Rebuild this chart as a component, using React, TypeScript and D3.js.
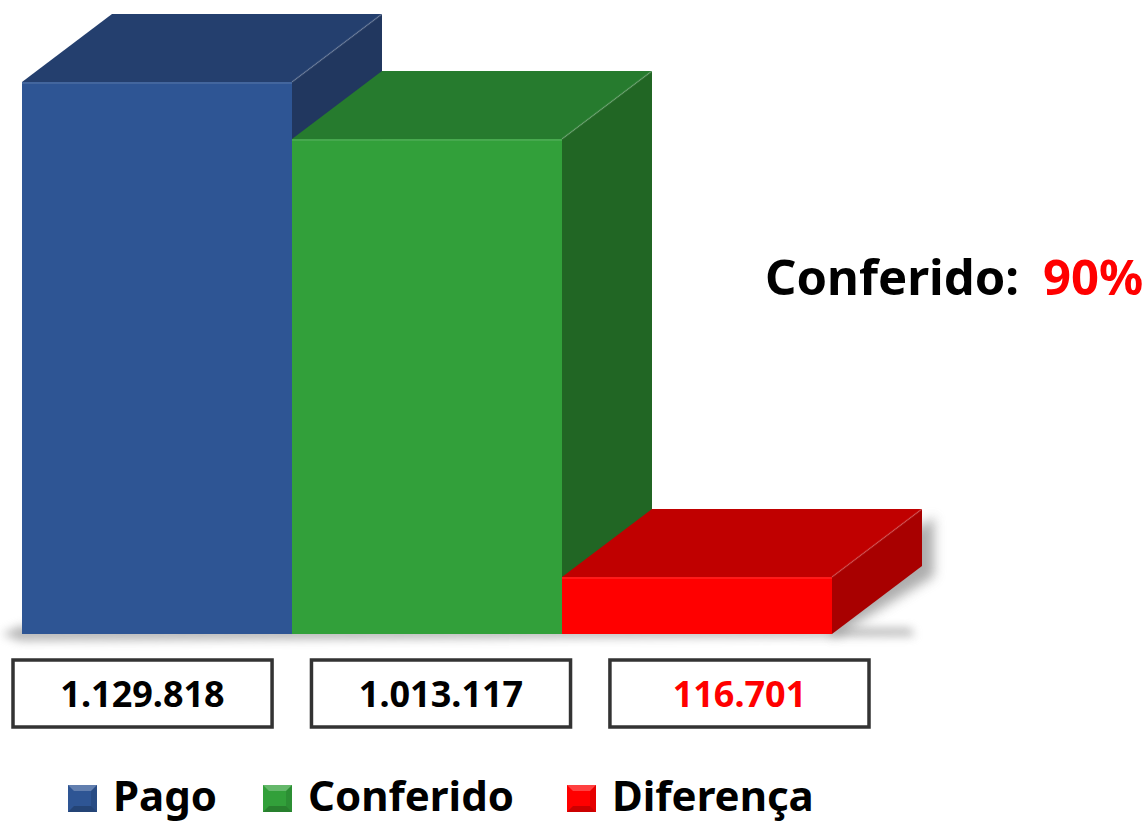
import React from 'react';
import * as d3 from 'd3';

const categories = ['Pago', 'Conferido', 'Diferença'];
const values = [1129818, 1013117, 116701];
const valueLabels = ['1.129.818', '1.013.117', '116.701'];
const percentLabel = '90%';

const frontColors = ['#2E5594', '#32A03A', '#FF0000'];
const topColors = ['#243F6E', '#267B2E', '#C00000'];
const sideColors = ['#21375F', '#216624', '#A80000'];
const labelColors = ['#000000', '#000000', '#FF0000'];

const width = 1148;
const height = 825;
const baseY = 634;
const depthX = 90;
const depthY = -68;
const font = "'Noto Sans', 'Open Sans', sans-serif";

const App = () => {
  const x = d3.scaleBand<string>().domain(categories).range([22, 832]).padding(0);
  const y = d3.scaleLinear().domain([0, d3.max(values) as number]).range([baseY, 82]);
  const boxX = d3.scaleBand<string>().domain(categories).range([13, 869]).paddingInner(0.132);

  const bw = x.bandwidth();
  const poly = (pts: [number, number][]) => 'M' + pts.map(p => p.join(',')).join('L') + 'Z';

  const legendX = [68, 263, 567];

  return (
    <svg width={width} height={height} style={{ position: 'absolute', left: 0, top: 0, background: '#fff' }}>
      <defs>
        <filter id="blur" x="-20%" y="-200%" width="140%" height="500%">
          <feGaussianBlur stdDeviation="5" />
        </filter>
        <filter id="blur2" x="-50%" y="-50%" width="200%" height="200%">
          <feGaussianBlur stdDeviation="6" />
        </filter>
      </defs>

      {/* floor shadow */}
      <path d={poly([[2, 634], [20, 626], [910, 628], [915, 636], [20, 641]])} fill="#8a8a8a" opacity={0.6} filter="url(#blur)" />
      <path
        d={poly([
          [x('Diferença')! + bw, y(values[2]) + 6],
          [x('Diferença')! + bw + depthX + 12, y(values[2]) + depthY + 8],
          [x('Diferença')! + bw + depthX + 12, baseY + depthY + 10],
          [x('Diferença')! + bw, baseY + 4],
        ])}
        fill="#777"
        opacity={0.6}
        filter="url(#blur2)"
      />

      {categories.map((c, i) => {
        const x0 = x(c)!;
        const x1 = x0 + bw;
        const yt = y(values[i]);
        return (
          <g key={c}>
            <path
              d={poly([[x1, yt], [x1 + depthX, yt + depthY], [x1 + depthX, baseY + depthY], [x1, baseY]])}
              fill={sideColors[i]}
            />
            <path
              d={poly([[x0, yt], [x0 + depthX, yt + depthY], [x1 + depthX, yt + depthY], [x1, yt]])}
              fill={topColors[i]}
            />
            <line x1={x1} y1={yt} x2={x1 + depthX} y2={yt + depthY} stroke="#fff" strokeOpacity={0.12} strokeWidth={2} />
            <rect x={x0} y={yt} width={bw} height={baseY - yt} fill={frontColors[i]} />
            <line x1={x0} y1={yt + 1} x2={x1} y2={yt + 1} stroke="#fff" strokeOpacity={0.1} strokeWidth={2} />
          </g>
        );
      })}

      {categories.map((c, i) => (
        <g key={'box' + c}>
          <rect x={boxX(c)!} y={660} width={boxX.bandwidth()} height={67} fill="#fff" stroke="#333" strokeWidth={3.5} />
          <text
            x={boxX(c)! + boxX.bandwidth() / 2}
            y={707}
            textAnchor="middle"
            fontFamily={font}
            fontWeight="bold"
            fontSize={36}
            fill={labelColors[i]}
          >
            {valueLabels[i]}
          </text>
        </g>
      ))}

      <text x={765} y={295} fontFamily={font} fontWeight="bold" fontSize={49} fill="#000">
        Conferido:
        <tspan x={1043} fill="#FF0000">{percentLabel}</tspan>
      </text>

      {categories.map((c, i) => {
        const lx = legendX[i];
        const ly = 785;
        const s = 29;
        const h = 27;
        const m = 6;
        return (
          <g key={'leg' + c}>
            <rect x={lx} y={ly} width={s} height={h} fill={frontColors[i]} />
            <path d={poly([[lx, ly], [lx + s, ly], [lx + s - m, ly + m], [lx + m, ly + m]])} fill="#fff" opacity={0.25} />
            <path d={poly([[lx, ly + h], [lx + s, ly + h], [lx + s - m, ly + h - m], [lx + m, ly + h - m]])} fill="#000" opacity={0.2} />
            <path d={poly([[lx + s, ly], [lx + s, ly + h], [lx + s - m, ly + h - m], [lx + s - m, ly + m]])} fill="#000" opacity={0.1} />
            <text x={lx + 45} y={811} fontFamily={font} fontWeight="bold" fontSize={42} fill="#000">
              {c}
            </text>
          </g>
        );
      })}
    </svg>
  );
};

export default App;
